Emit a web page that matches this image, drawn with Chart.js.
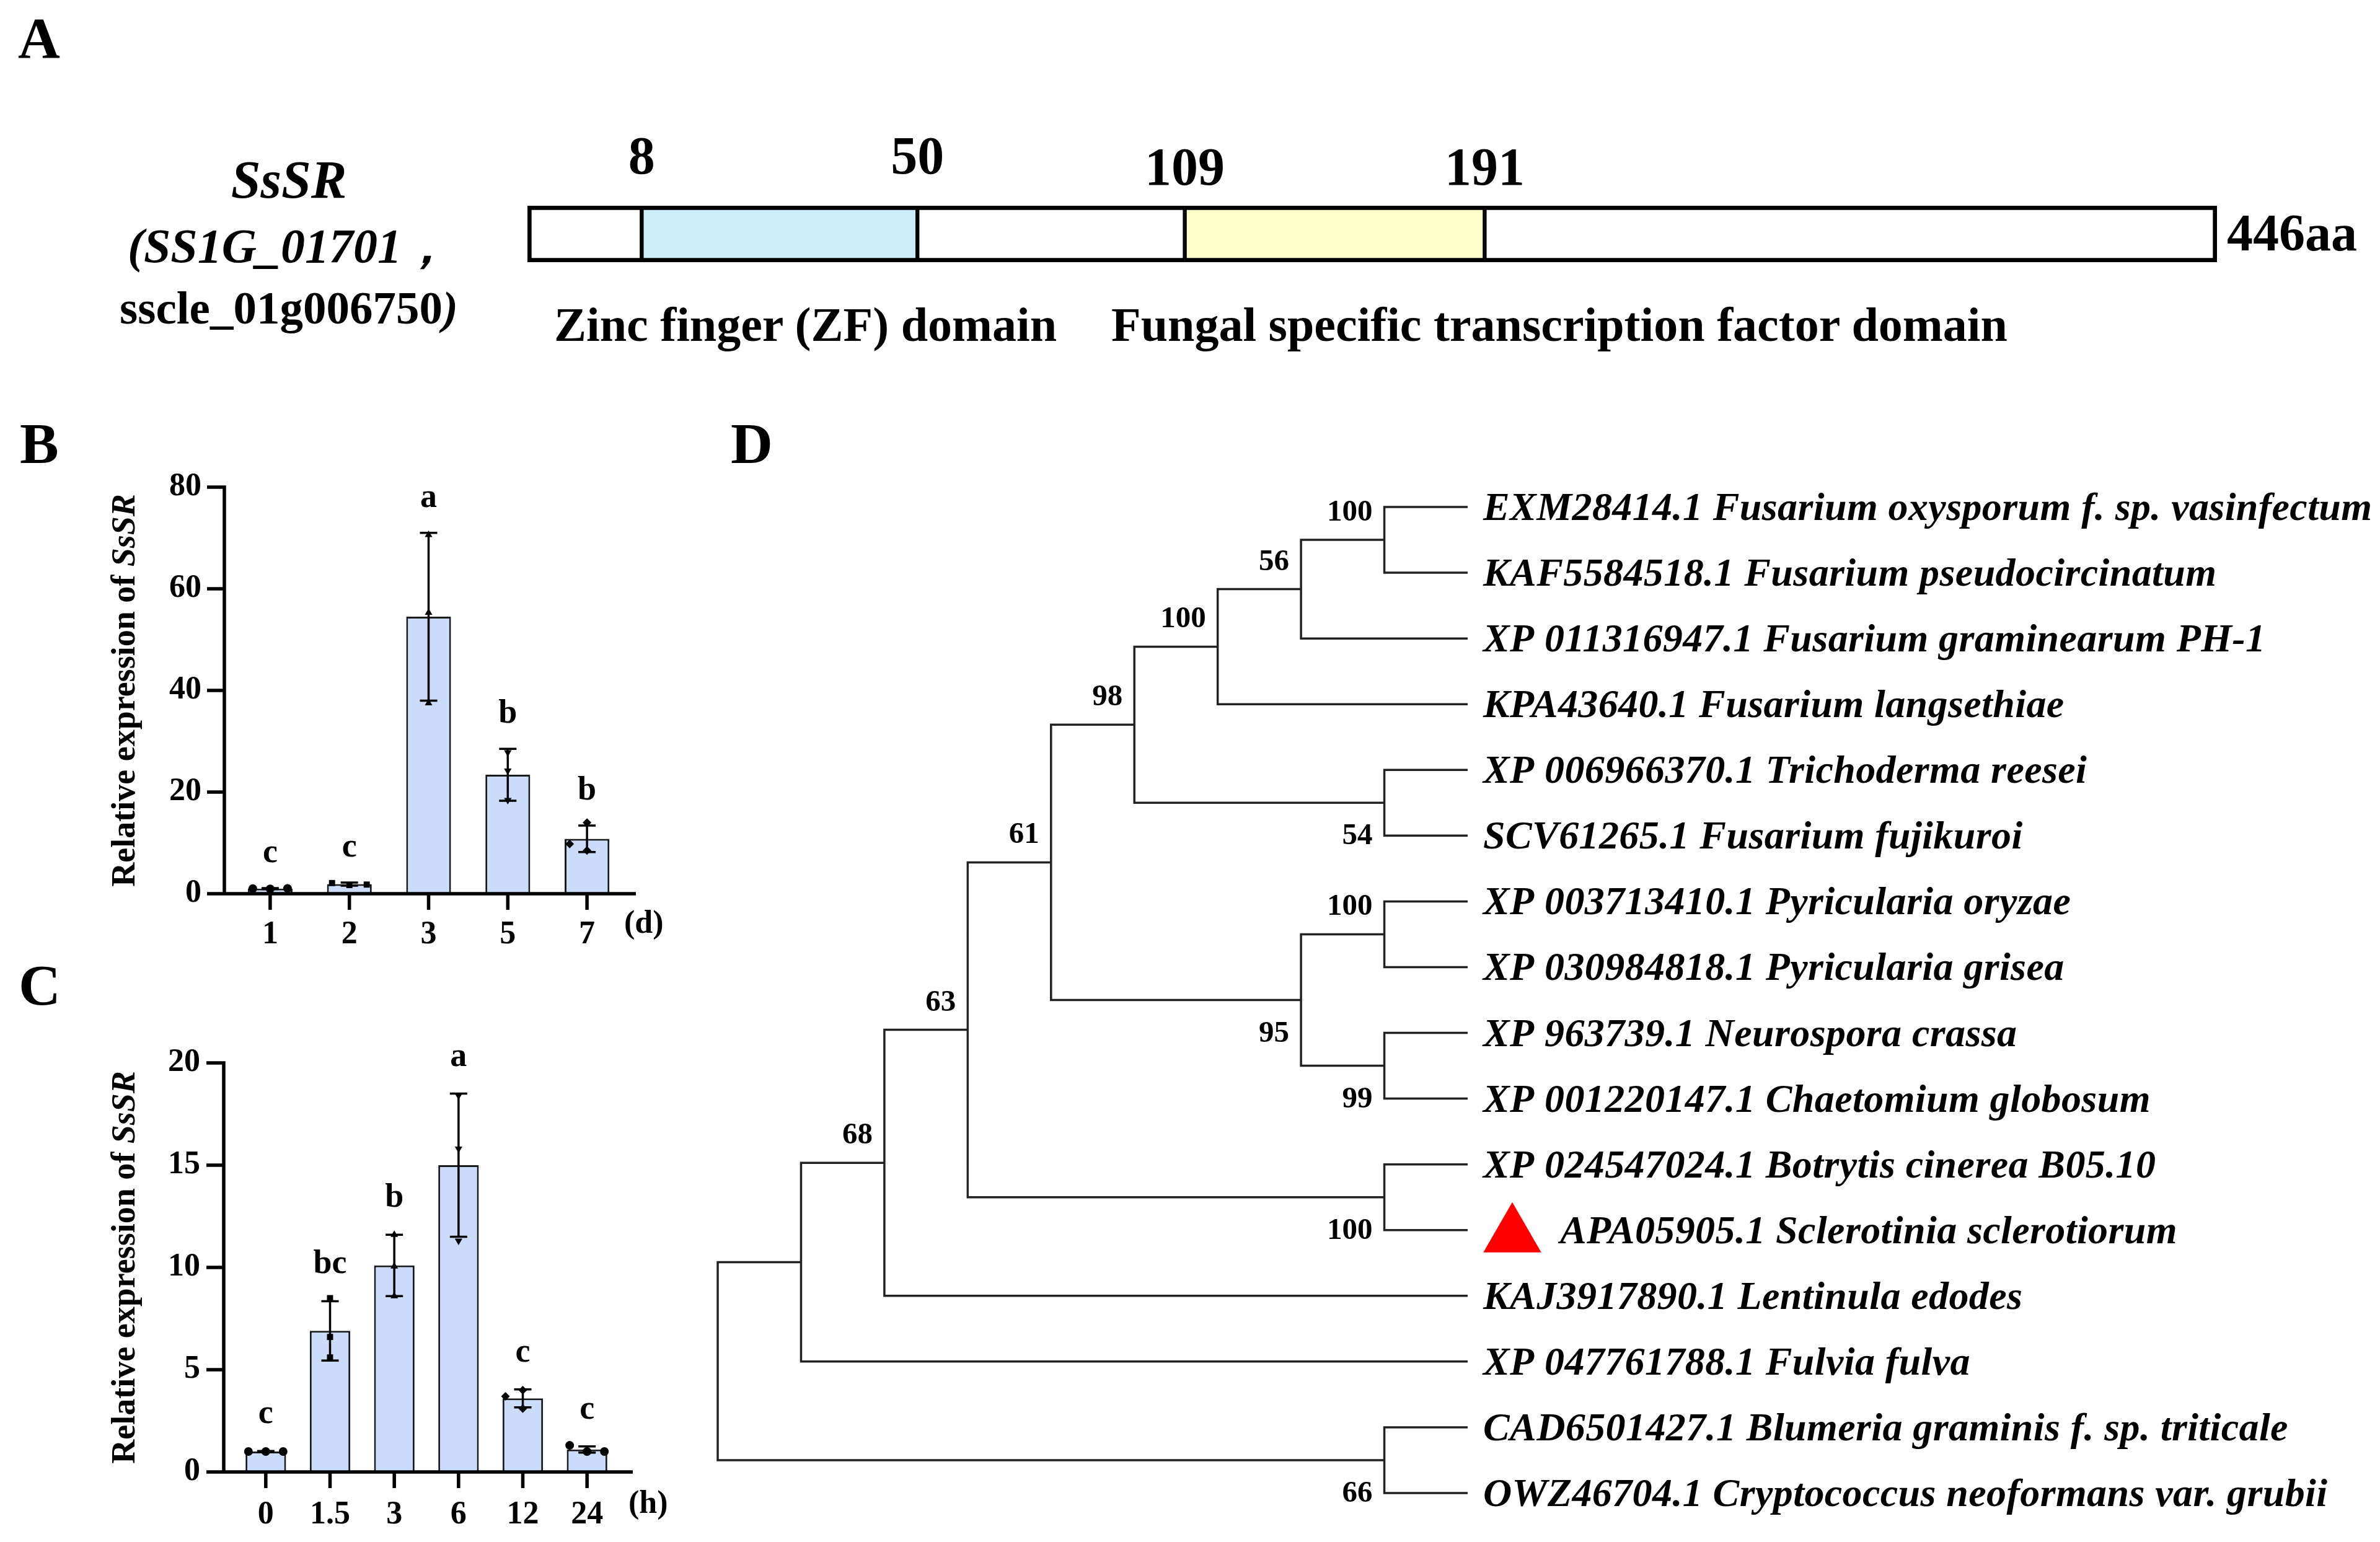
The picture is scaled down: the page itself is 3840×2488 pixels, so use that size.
<!DOCTYPE html>
<html lang="en">
<head>
<meta charset="UTF-8">
<title>SsSR domain, expression and phylogeny</title>
<style>
    body { margin: 0; background: #fff; }
    #page { position: relative; width: 3840px; height: 2488px; background: #fff; overflow: hidden;
            font-family: 'Liberation Serif', 'Times New Roman', serif; color: #000; }
    #page canvas { position: absolute; }
    .txt { position: absolute; font-weight: bold; line-height: 1; white-space: nowrap; }
    .it { font-style: italic; }
    .panel { font-size: 94px; }
</style>
<script src="https://cdn.jsdelivr.net/npm/chart.js"></script>
</head>
<body>
<div id="page">
    <div class="txt panel" style="left:29px;top:14px">A</div>
    <div class="txt panel" style="left:32px;top:668px">B</div>
    <div class="txt panel" style="left:30px;top:1542px">C</div>
    <div class="txt panel" style="left:1179px;top:668px">D</div>

    <!-- panel A text -->
    <div class="txt it" style="left:166px;width:600px;text-align:center;top:247px;font-size:86px">SsSR</div>
    <div class="txt it" style="left:166px;width:600px;text-align:center;top:358px;font-size:78px">(SS1G_01701，</div>
    <div class="txt" style="left:166px;width:600px;text-align:center;top:459px;font-size:75px">sscle_01g006750<span class="it">)</span></div>
    <div class="txt" style="left:3593px;top:334px;font-size:84px">446aa</div>
    <div class="txt" style="left:894px;top:485px;font-size:78px">Zinc finger (ZF) domain</div>
    <div class="txt" style="left:1793px;top:485px;font-size:78px">Fungal specific transcription factor domain</div>

    <div class="txt" style="left:1007px;top:1462px;font-size:52px">(d)</div>
    <div class="txt" style="left:1014px;top:2398px;font-size:52px">(h)</div>

    <canvas id="domainChart" width="3040" height="440" style="left:800px;top:180px"></canvas>
    <canvas id="dayChart" width="1100" height="880" style="left:0;top:680px"></canvas>
    <canvas id="hourChart" width="1100" height="928" style="left:0;top:1560px"></canvas>
    <canvas id="treeChart" width="2740" height="1788" style="left:1100px;top:700px"></canvas>
</div>

<script>
// ---- data ----
const proteinLength = 446;
const domainStart = [8, 109];
const domainEnd = [50, 191];
const domainColors = ['#cdecfc', '#ffffcc'];

const dayLabels = ['1', '2', '3', '5', '7'];
const dayMean = [1.0, 1.9, 54.5, 23.4, 10.8];
const daySD = [0.1, 0.3, 16.5, 5.1, 2.6];
const dayPoints = [[0.95, 1.0, 1.05], [1.7, 2.1, 1.8], [55.3, 37.5, 70.6], [24.2, 18.4, 27.8], [14.0, 8.5, 9.8]];
const dayGroups = ['c', 'c', 'a', 'b', 'b'];

const hourLabels = ['0', '1.5', '3', '6', '12', '24'];
const hourMean = [1.0, 6.9, 10.1, 15.0, 3.6, 1.1];
const hourSD = [0.02, 1.45, 1.5, 3.5, 0.44, 0.15];
const hourPoints = [[1.0, 1.0, 1.0], [8.5, 6.6, 5.6], [11.6, 10.05, 8.6], [18.4, 15.8, 11.3], [4.0, 3.7, 3.1], [1.0, 1.3, 1.0]];
const hourGroups = ['c', 'bc', 'b', 'a', 'c', 'c'];

const leafNames = [
    'EXM28414.1 Fusarium oxysporum f. sp. vasinfectum',
    'KAF5584518.1 Fusarium pseudocircinatum',
    'XP 011316947.1 Fusarium graminearum PH-1',
    'KPA43640.1 Fusarium langsethiae',
    'XP 006966370.1 Trichoderma reesei',
    'SCV61265.1 Fusarium fujikuroi',
    'XP 003713410.1 Pyricularia oryzae',
    'XP 030984818.1 Pyricularia grisea',
    'XP 963739.1 Neurospora crassa',
    'XP 001220147.1 Chaetomium globosum',
    'XP 024547024.1 Botrytis cinerea B05.10',
    'APA05905.1 Sclerotinia sclerotiorum',
    'KAJ3917890.1 Lentinula edodes',
    'XP 047761788.1 Fulvia fulva',
    'CAD6501427.1 Blumeria graminis f. sp. triticale',
    'OWZ46704.1 Cryptococcus neoformans var. grubii'
];
const highlightLeaf = 11;

// clade(support, label side, children...) ; numbers are leaf indices
function clade(s, side, ...kids) { return { s, side, kids }; }
const tree = clade(null, '',
    clade(null, '',
        clade(68, 'up',
            clade(63, 'up',
                clade(61, 'up',
                    clade(98, 'up',
                        clade(100, 'up', clade(56, 'up', clade(100, 'up', 0, 1), 2), 3),
                        clade(54, 'down', 4, 5)),
                    clade(95, 'down', clade(100, 'up', 6, 7), clade(99, 'down', 8, 9))),
                clade(100, 'down', 10, 11)),
            12),
        13),
    clade(66, 'down', 14, 15));

const SERIF = '"Liberation Serif", "Times New Roman", serif';
Chart.defaults.font.family = SERIF;
Chart.defaults.color = '#000';

// ---- panel A: protein schematic on a compressed (power) axis ----
class PowScale extends Chart.LinearScale {
    static id = 'pow';
    getPixelForValue(value) {
        const e = this.options.exponent || 1;
        const t = Math.pow(Math.max(value - this.min, 0) / (this.max - this.min), e);
        return this.getPixelForDecimal(t);
    }
    getValueForPixel(pixel) {
        const e = this.options.exponent || 1;
        return this.min + Math.pow(this.getDecimalForPixel(pixel), 1 / e) * (this.max - this.min);
    }
}
Chart.register(PowScale);

const cuts = [0];
domainStart.forEach((s, i) => cuts.push(s, domainEnd[i]));
cuts.push(proteinLength);
const segments = cuts.slice(0, -1).map((c, i) => ({
    data: [[c, cuts[i + 1]]],
    backgroundColor: i % 2 ? domainColors[(i - 1) / 2] : '#ffffff',
    borderColor: '#000',
    borderWidth: { top: 7, bottom: 7, left: i === 0 ? 7 : 3.5, right: i === cuts.length - 2 ? 7 : 3.5 },
    borderSkipped: false,
    barThickness: 91,
    grouped: false
}));

const domainNumbers = {
    id: 'domainNumbers',
    afterDatasetsDraw(chart) {
        const { ctx, chartArea, scales: { x } } = chart;
        ctx.save();
        ctx.font = 'bold 86px ' + SERIF;
        ctx.textAlign = 'center';
        ctx.fillStyle = '#000';
        domainStart.forEach((s, i) => {
            const yb = chartArea.top - (i === 0 ? 52 : 34);
            ctx.fillText(String(s), x.getPixelForValue(s), yb);
            ctx.fillText(String(domainEnd[i]), x.getPixelForValue(domainEnd[i]), yb);
        });
        ctx.restore();
    }
};

new Chart(document.getElementById('domainChart'), {
    type: 'bar',
    data: { labels: ['SsSR'], datasets: segments },
    options: {
        indexAxis: 'y',
        responsive: false,
        animation: false,
        devicePixelRatio: 1,
        layout: { padding: { left: 51, right: 263, top: 152, bottom: 197 } },
        plugins: { legend: { display: false }, tooltip: { enabled: false } },
        scales: {
            x: { type: 'pow', exponent: 0.67, min: 0, max: proteinLength, display: false },
            y: { display: false }
        }
    },
    plugins: [domainNumbers]
});

// ---- panels B and C: bar + replicate dots ----
const prismPlugin = {
    id: 'prism',
    afterDatasetsDraw(chart, args, o) {
        const { ctx, scales: { x, y } } = chart;
        ctx.save();
        ctx.strokeStyle = '#000';
        ctx.fillStyle = '#000';
        ctx.lineWidth = 3.5;
        o.means.forEach((m, i) => {
            const cx = x.getPixelForValue(i);
            const hi = y.getPixelForValue(m + o.sds[i]);
            const lo = y.getPixelForValue(Math.max(m - o.sds[i], 0));
            ctx.beginPath();
            ctx.moveTo(cx, lo); ctx.lineTo(cx, hi);
            ctx.moveTo(cx - o.cap, hi); ctx.lineTo(cx + o.cap, hi);
            ctx.moveTo(cx - o.cap, lo); ctx.lineTo(cx + o.cap, lo);
            ctx.stroke();

            const placed = [];
            o.points[i].forEach(v => {
                const py = y.getPixelForValue(v);
                let px = cx;
                for (const k of [0, -1, 1, -2, 2]) {
                    const tx = cx + k * o.spread;
                    if (placed.every(p => Math.hypot(p[0] - tx, p[1] - py) >= 2 * o.r)) { px = tx; break; }
                }
                placed.push([px, py]);
                Chart.helpers.drawPoint(ctx, { pointStyle: o.shapes[i], radius: o.r, rotation: o.rot[i], borderWidth: 0 }, px, py);
            });

            ctx.font = 'bold 54px ' + SERIF;
            ctx.textAlign = 'center';
            ctx.textBaseline = 'alphabetic';
            ctx.fillText(o.groups[i], cx, hi - o.letterGap);
        });
        ctx.restore();
    },
    afterDraw(chart, args, o) {
        const { ctx, chartArea: ca, scales: { x, y } } = chart;
        const y0 = y.getPixelForValue(0);
        const yTop = y.getPixelForValue(y.max);
        const ax = ca.left - o.axisInset;
        ctx.save();
        ctx.strokeStyle = '#000';
        ctx.lineWidth = 5.5;
        ctx.beginPath();
        ctx.moveTo(ax, yTop - 2.75); ctx.lineTo(ax, y0);
        ctx.moveTo(ax - o.extL, y0); ctx.lineTo(ca.right + o.extR, y0);
        y.ticks.forEach(t => {
            const ty = y.getPixelForValue(t.value);
            ctx.moveTo(ax - o.tick, ty); ctx.lineTo(ax, ty);
        });
        o.means.forEach((m, i) => {
            const tx = x.getPixelForValue(i);
            ctx.moveTo(tx, y0); ctx.lineTo(tx, y0 + o.tick - 2);
        });
        ctx.stroke();

        // y title with italic gene name
        const partA = 'Relative expression of ', partB = 'SsSR';
        const fA = 'bold 54px ' + SERIF, fB = 'italic bold 54px ' + SERIF;
        ctx.font = fA; const wA = ctx.measureText(partA).width;
        ctx.font = fB; const wB = ctx.measureText(partB).width;
        ctx.translate(o.titleX, (yTop + y0) / 2);
        ctx.rotate(-Math.PI / 2);
        ctx.fillStyle = '#000';
        ctx.textBaseline = 'middle';
        ctx.textAlign = 'left';
        ctx.font = fA; ctx.fillText(partA, -(wA + wB) / 2, 0);
        ctx.font = fB; ctx.fillText(partB, -(wA + wB) / 2 + wA, 0);
        ctx.restore();
    }
};

function expressionChart(id, labels, means, sds, points, groups, cfg) {
    return new Chart(document.getElementById(id), {
        type: 'bar',
        data: {
            labels: labels,
            datasets: [{
                data: means,
                backgroundColor: '#cbdcfa',
                borderColor: '#1a1a1a',
                borderWidth: 3,
                categoryPercentage: 1,
                barPercentage: cfg.barPct
            }]
        },
        options: {
            responsive: false,
            animation: false,
            devicePixelRatio: 1,
            layout: { padding: { left: 0, top: cfg.top, right: cfg.right, bottom: 0 } },
            plugins: {
                legend: { display: false },
                tooltip: { enabled: false },
                prism: {
                    means, sds, points, groups,
                    shapes: cfg.shapes, rot: cfg.rot, r: 7, spread: 28, cap: 14,
                    letterGap: cfg.letterGap, axisInset: cfg.axisInset, extL: cfg.extL, extR: cfg.extR,
                    tick: 28, titleX: 203
                }
            },
            scales: {
                x: {
                    type: 'category',
                    offset: true,
                    grid: { display: false, drawTicks: false },
                    border: { display: false },
                    ticks: { font: { size: 52, weight: 'bold' }, color: '#000', padding: cfg.xPad },
                    afterFit: s => { s.height = cfg.xHeight; }
                },
                y: {
                    min: 0, max: cfg.yMax,
                    grid: { display: false, drawTicks: false },
                    border: { display: false },
                    ticks: { stepSize: cfg.yStep, font: { size: 52, weight: 'bold' }, color: '#000', padding: cfg.yPad },
                    afterFit: s => { s.width = cfg.yWidth; }
                }
            }
        },
        plugins: [prismPlugin]
    });
}

expressionChart('dayChart', dayLabels, dayMean, daySD, dayPoints, dayGroups, {
    barPct: 0.565, top: 106, right: 89, xHeight: 118, yWidth: 372, yMax: 80, yStep: 20,
    xPad: 35, yPad: 47, axisInset: 10, extL: 25, extR: 15, letterGap: 42,
    shapes: ['circle', 'rect', 'triangle', 'triangle', 'rectRot'], rot: [0, 0, 0, 180, 0]
});

expressionChart('hourChart', hourLabels, hourMean, hourSD, hourPoints, hourGroups, {
    barPct: 0.63, top: 155, right: 101, xHeight: 113, yWidth: 377, yMax: 20, yStep: 5,
    xPad: 38, yPad: 54, axisInset: 16, extL: 28, extR: 22, letterGap: 45,
    shapes: ['circle', 'rect', 'triangle', 'triangle', 'rectRot', 'circle'], rot: [0, 0, 0, 180, 0, 0]
});

// ---- panel D: cladogram ----
const internalNodes = [];
function place(n) {
    if (typeof n === 'number') return { y: n, h: 0, kidsPlaced: [] };
    n.kidsPlaced = n.kids.map(place);
    n.h = Math.max(...n.kidsPlaced.map(k => k.h)) + 1;
    n.y = (n.kidsPlaced[0].y + n.kidsPlaced[n.kidsPlaced.length - 1].y) / 2;
    internalNodes.push(n);
    return n;
}
place(tree);
const treeDepth = tree.h;
(function setX(n) { n.x = treeDepth - n.h; n.kidsPlaced.forEach(setX); })(tree);

const branchPoints = [];
internalNodes.forEach(n => {
    n.kidsPlaced.forEach(k => {
        branchPoints.push({ x: n.x, y: n.y }, { x: n.x, y: k.y }, { x: k.x, y: k.y }, { x: k.x, y: null });
    });
});

const treeLabels = {
    id: 'treeLabels',
    afterDatasetsDraw(chart) {
        const { ctx, scales: { x, y } } = chart;
        ctx.save();
        ctx.fillStyle = '#000';
        ctx.textBaseline = 'alphabetic';
        ctx.font = 'bold 49px ' + SERIF;
        ctx.textAlign = 'right';
        internalNodes.forEach(n => {
            if (n.s == null) return;
            const px = x.getPixelForValue(n.x), py = y.getPixelForValue(n.y);
            ctx.fillText(String(n.s), px - 19, n.side === 'down' ? py + 67 : py - 31);
        });
        const tipX = x.getPixelForValue(treeDepth);
        ctx.font = 'italic bold 64px ' + SERIF;
        ctx.letterSpacing = '0.4px';
        ctx.textAlign = 'left';
        leafNames.forEach((name, i) => {
            const py = y.getPixelForValue(i);
            let tx = tipX + 25;
            if (i === highlightLeaf) {
                ctx.fillStyle = '#ff0000';
                Chart.helpers.drawPoint(ctx, { pointStyle: 'triangle', radius: 54, rotation: 0, borderWidth: 0 }, tipX + 72, py + 9);
                ctx.fillStyle = '#000';
                tx = tipX + 149;
            }
            ctx.fillText(name, tx, py + 21);
        });
        ctx.restore();
    }
};

new Chart(document.getElementById('treeChart'), {
    type: 'line',
    data: {
        datasets: [{
            data: branchPoints,
            borderColor: '#222',
            borderWidth: 3.5,
            pointRadius: 0,
            spanGaps: false,
            tension: 0,
            clip: false
        }]
    },
    options: {
        responsive: false,
        animation: false,
        devicePixelRatio: 1,
        layout: { padding: { left: 58, right: 1472, top: 118, bottom: 79 } },
        plugins: { legend: { display: false }, tooltip: { enabled: false } },
        scales: {
            x: { type: 'linear', min: 0, max: treeDepth, display: false },
            y: { type: 'linear', min: 0, max: leafNames.length - 1, reverse: true, display: false }
        }
    },
    plugins: [treeLabels]
});
</script>
</body>
</html>
